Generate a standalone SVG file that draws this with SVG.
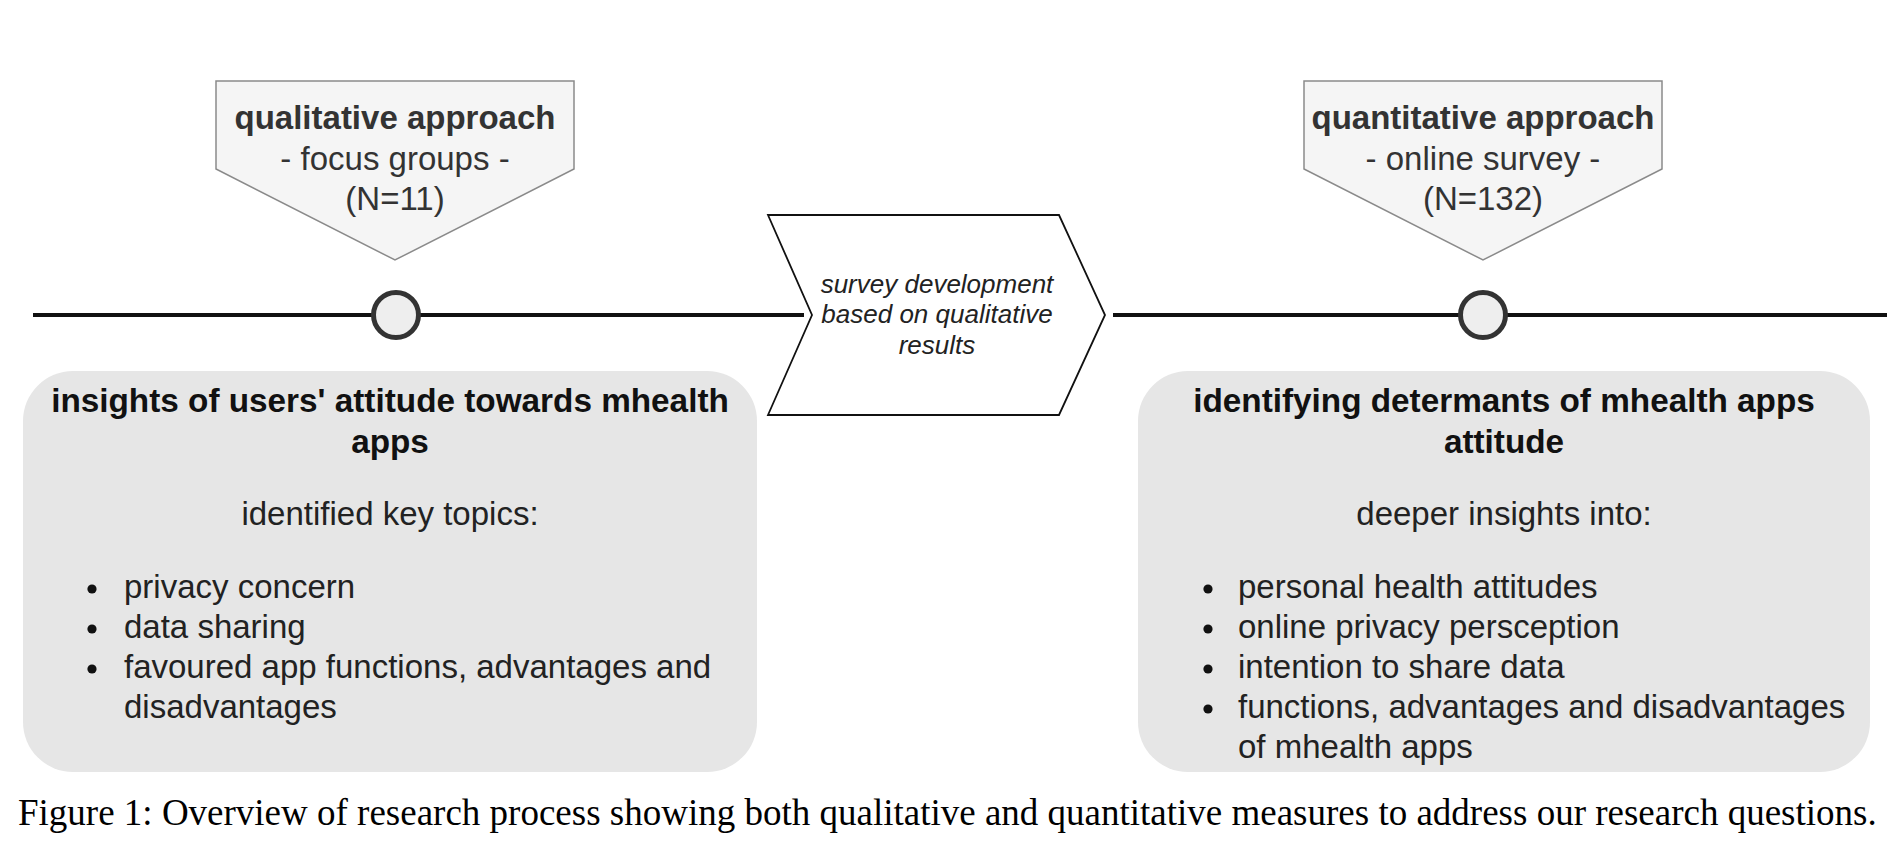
<svg xmlns="http://www.w3.org/2000/svg" width="1902" height="846" viewBox="0 0 1902 846">
<style>
.pent{fill:#f5f5f5;stroke:#8a8a8a;stroke-width:1.5}
.ptb{font-family:"Liberation Sans",Arial,sans-serif;font-size:33px;font-weight:bold;fill:#333;text-anchor:middle}
.pt{font-family:"Liberation Sans",Arial,sans-serif;font-size:33px;fill:#333;text-anchor:middle}
.box{fill:#e6e6e6}
.bt{font-family:"Liberation Sans",Arial,sans-serif;font-size:33.3px;font-weight:bold;fill:#111;text-anchor:middle}
.tx{font-family:"Liberation Sans",Arial,sans-serif;font-size:33px;fill:#222}
.mid{text-anchor:middle}
.dot{fill:#111}
.tl{stroke:#111;stroke-width:4;fill:none}
.ms{fill:#eeeeee;stroke:#333;stroke-width:5}
.chev{fill:#fff;stroke:#111;stroke-width:1.8}
.ct{font-family:"Liberation Sans",Arial,sans-serif;font-size:26px;font-style:italic;fill:#222;text-anchor:middle}
.cap{font-family:"Liberation Serif","Times New Roman",serif;font-size:37px;fill:#000}
</style>
<rect width="1902" height="846" fill="#fff"/>
<g id="connectors">
<line class="tl" x1="33" y1="315" x2="804" y2="315"/>
<line class="tl" x1="1113" y1="315" x2="1887" y2="315"/>
</g>
<g id="qual-approach">
<polygon class="pent" points="216,81 574,81 574,169 395,260 216,169"/>
<text class="ptb" x="395" y="129">qualitative approach</text>
<text class="pt" x="395" y="170">- focus groups -</text>
<text class="pt" x="395" y="210">(N=11)</text>
</g>
<g id="quant-approach">
<polygon class="pent" points="1304,81 1662,81 1662,169 1483,260 1304,169"/>
<text class="ptb" x="1483" y="129">quantitative approach</text>
<text class="pt" x="1483" y="170">- online survey -</text>
<text class="pt" x="1483" y="210">(N=132)</text>
</g>
<g id="milestone-1">
<circle class="ms" cx="396" cy="315" r="22.5"/>
</g>
<g id="milestone-2">
<circle class="ms" cx="1483" cy="315" r="22.5"/>
</g>
<g id="survey-dev">
<polygon class="chev" points="768,215 1059,215 1105,315 1059,415 768,415 812,315"/>
<text class="ct" x="937" y="293">survey development</text>
<text class="ct" x="937" y="323">based on qualitative</text>
<text class="ct" x="937" y="354">results</text>
</g>
<g id="qual-results">
<rect class="box" x="23" y="371" width="734" height="401" rx="50" ry="50"/>
<text class="bt" x="390" y="412">insights of users' attitude towards mhealth</text>
<text class="bt" x="390" y="453">apps</text>
<text class="tx mid" x="390" y="525">identified key topics:</text>
<circle class="dot" cx="92" cy="589" r="4.6"/>
<text class="tx" x="124" y="598">privacy concern</text>
<circle class="dot" cx="92" cy="629" r="4.6"/>
<text class="tx" x="124" y="638">data sharing</text>
<circle class="dot" cx="92" cy="669" r="4.6"/>
<text class="tx" x="124" y="678">favoured app functions, advantages and</text>
<text class="tx" x="124" y="718">disadvantages</text>
</g>
<g id="quant-results">
<rect class="box" x="1138" y="371" width="732" height="401" rx="50" ry="50"/>
<text class="bt" x="1504" y="412">identifying determants of mhealth apps</text>
<text class="bt" x="1504" y="453">attitude</text>
<text class="tx mid" x="1504" y="525">deeper insights into:</text>
<circle class="dot" cx="1208" cy="589" r="4.6"/>
<text class="tx" x="1238" y="598">personal health attitudes</text>
<circle class="dot" cx="1208" cy="629" r="4.6"/>
<text class="tx" x="1238" y="638">online privacy persception</text>
<circle class="dot" cx="1208" cy="669" r="4.6"/>
<text class="tx" x="1238" y="678">intention to share data</text>
<circle class="dot" cx="1208" cy="709" r="4.6"/>
<text class="tx" x="1238" y="718">functions, advantages and disadvantages</text>
<text class="tx" x="1238" y="758">of mhealth apps</text>
</g>
<text class="cap" x="18" y="825">Figure 1: Overview of research process showing both qualitative and quantitative measures to address our research questions.</text>
</svg>
